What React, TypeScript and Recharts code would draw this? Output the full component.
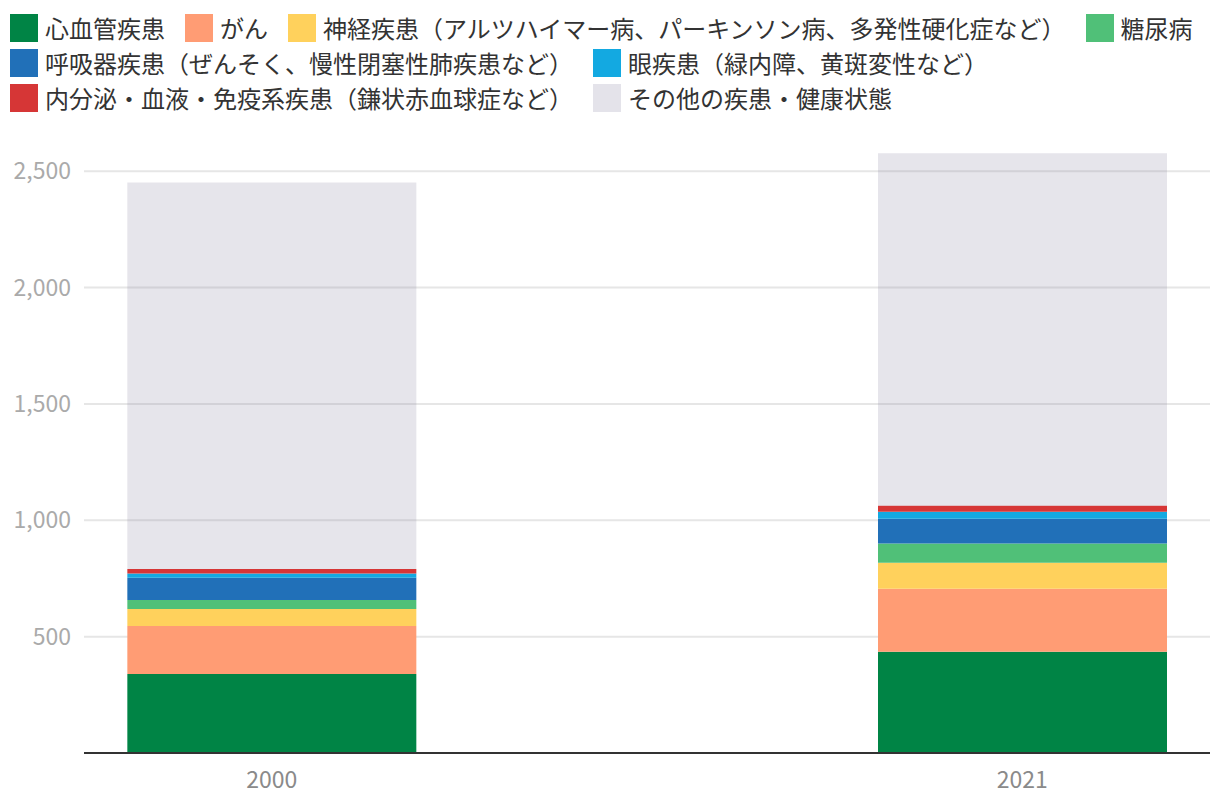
import { BarChart, Bar, XAxis, YAxis, CartesianGrid } from "recharts";

const years = ["2000", "2021"];
const cardio = [340, 435];
const cancer = [206, 271];
const neuro = [73, 112];
const diabetes = [39, 82];
const respiratory = [95, 107];
const eye = [18, 30];
const endocrine = [20, 26];
const other = [1661, 1514];

const yTicks = [500, 1000, 1500, 2000, 2500];

const series = [
  { key: "cardio", name: "心血管疾患", color: "#008445", values: cardio },
  { key: "cancer", name: "がん", color: "#ff9c74", values: cancer },
  {
    key: "neuro",
    name: "神経疾患（アルツハイマー病、パーキンソン病、多発性硬化症など）",
    color: "#ffd15c",
    values: neuro,
  },
  { key: "diabetes", name: "糖尿病", color: "#50c078", values: diabetes },
  {
    key: "respiratory",
    name: "呼吸器疾患（ぜんそく、慢性閉塞性肺疾患など）",
    color: "#2170b8",
    values: respiratory,
  },
  { key: "eye", name: "眼疾患（緑内障、黄斑変性など）", color: "#13a9e1", values: eye },
  {
    key: "endocrine",
    name: "内分泌・血液・免疫系疾患（鎌状赤血球症など）",
    color: "#d63636",
    values: endocrine,
  },
  { key: "other", name: "その他の疾患・健康状態", color: "#807c9c", values: other },
];

const data = years.map((year, i) => {
  const row: Record<string, number | string> = { pos: i, year };
  series.forEach((s) => {
    row[s.key] = s.values[i];
  });
  return row;
});

const font = '"Noto Sans CJK JP", "Noto Sans", sans-serif';

export default function App() {
  return (
    <div
      style={{
        position: "absolute",
        left: 0,
        top: 0,
        width: 1220,
        height: 812,
        background: "#fff",
        fontFamily: font,
      }}
    >
      <div
        style={{
          position: "absolute",
          left: 10,
          top: 14,
          width: 1205,
          display: "flex",
          flexWrap: "wrap",
          columnGap: 20,
          rowGap: 7,
          zIndex: 2,
        }}
      >
        {series.map((s) => (
          <div
            key={s.key}
            style={{ display: "flex", alignItems: "center", height: 28 }}
          >
            <span
              style={{
                width: 28,
                height: 28,
                marginRight: 7,
                background: s.key === "other" ? "#e4e3ea" : s.color,
                display: "inline-block",
              }}
            />
            <span style={{ fontSize: 24, lineHeight: "28px", color: "#333", whiteSpace: "nowrap" }}>
              {s.name}
            </span>
          </div>
        ))}
      </div>
      <BarChart
        width={1220}
        height={812}
        data={data}
        margin={{ top: 148, right: 10, bottom: 0, left: 0 }}
      >
        <CartesianGrid
          vertical={false}
          stroke="#e6e6e6"
          strokeWidth={2}
          syncWithTicks
        />
        <XAxis
          dataKey="pos"
          type="number"
          domain={[-0.25, 1.25]}
          ticks={[0, 1]}
          tickFormatter={(v) => years[v]}
          height={59}
          axisLine={{ stroke: "#333", strokeWidth: 2 }}
          tickLine={false}
          tickMargin={13}
          tick={{ fill: "#8a8a8a", fontSize: 23, fontFamily: font }}
          allowDataOverflow
        />
        <YAxis
          type="number"
          domain={[0, 2600]}
          ticks={yTicks}
          width={84}
          axisLine={false}
          tickLine={false}
          tickMargin={7}
          tickFormatter={(v) => v.toLocaleString("en-US")}
          tick={{ fill: "#aaa", fontSize: 23, fontFamily: font }}
        />
        {series.map((s) => (
          <Bar
            key={s.key}
            dataKey={s.key}
            stackId="a"
            fill={s.color}
            fillOpacity={s.key === "other" ? 0.2 : 1}
            barSize={289}
            isAnimationActive={false}
          />
        ))}
      </BarChart>
    </div>
  );
}
